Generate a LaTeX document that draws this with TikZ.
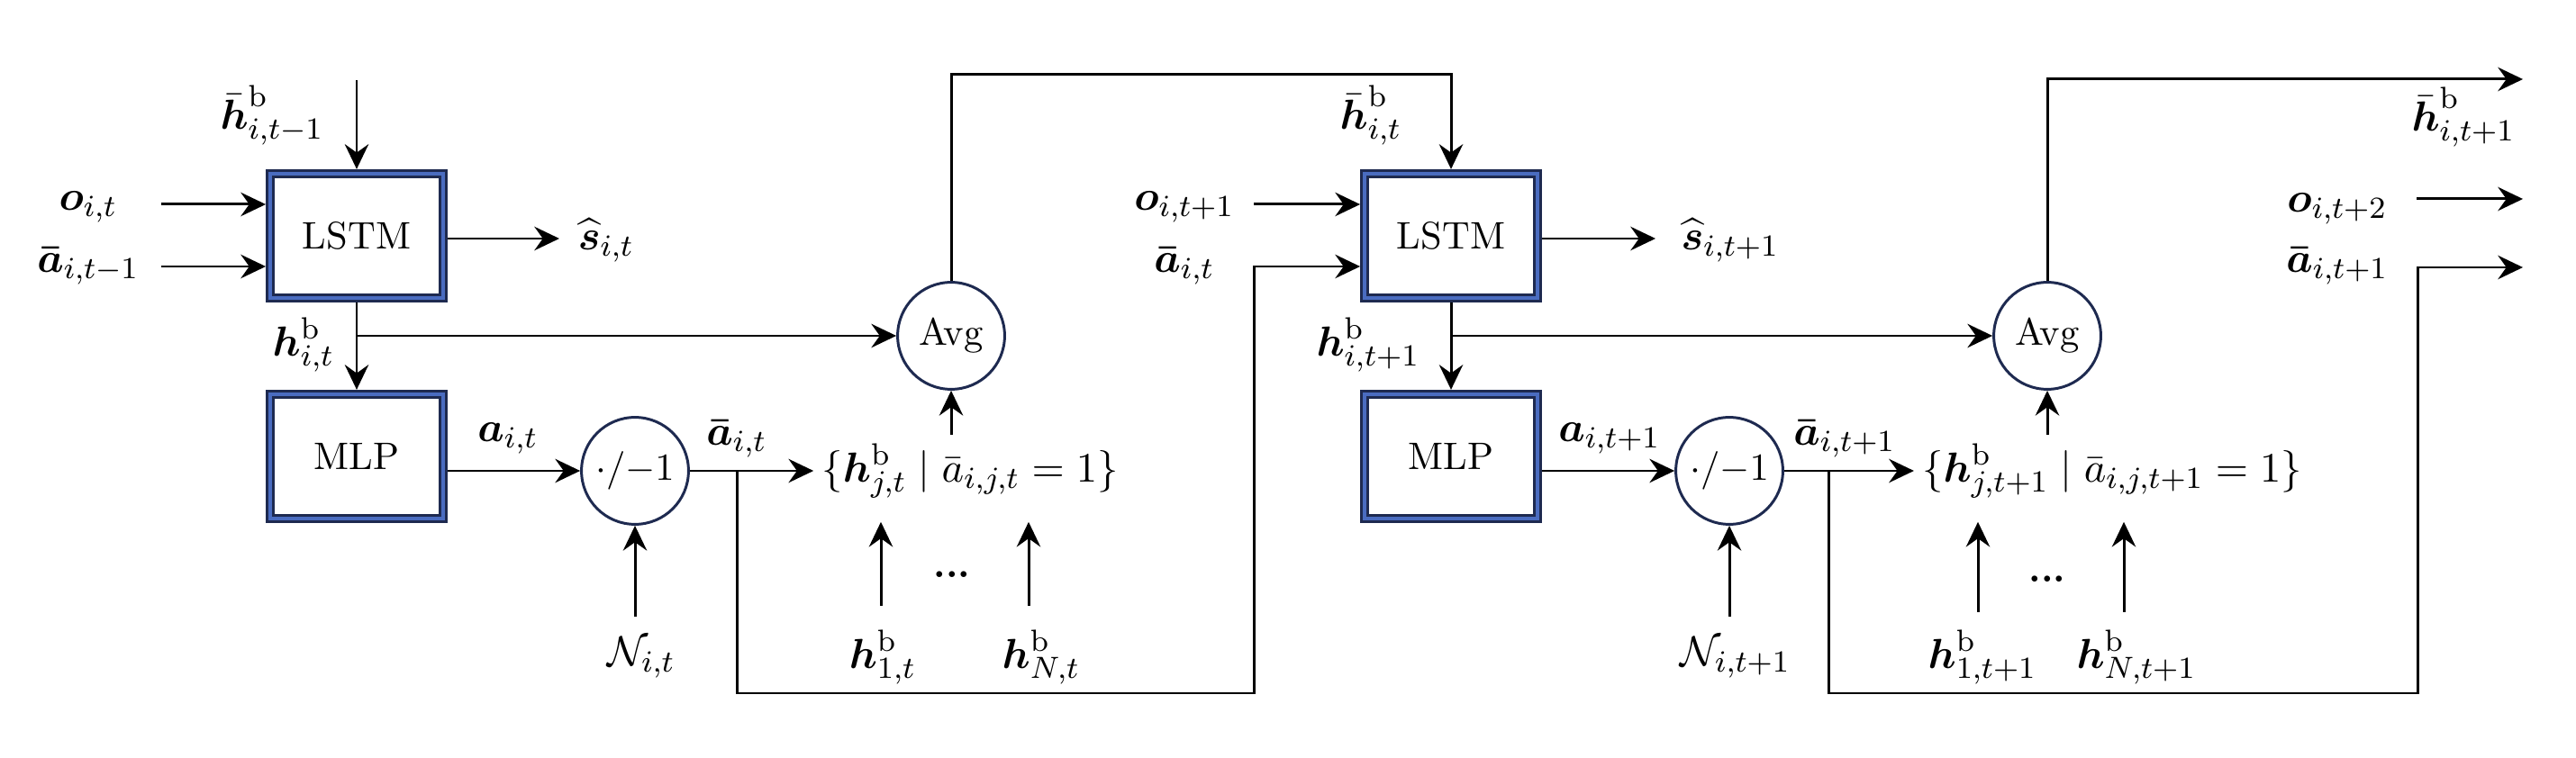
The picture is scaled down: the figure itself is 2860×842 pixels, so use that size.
\documentclass[tikz,border=0pt]{standalone}
\usepackage{amsmath, amssymb}
\usetikzlibrary{arrows.meta}
\definecolor{framenavy}{RGB}{30,42,80}
\definecolor{frameblue}{RGB}{74,108,192}
\tikzset{
        % blue double frame of LSTM / MLP
        block/.style={draw=framenavy, double=frameblue, line width=0.7pt,
            double distance=0.95pt, fill=white, minimum width=45pt,
            minimum height=32.4pt, inner sep=0pt, outer sep=1.2pt},
        % circle operators
        op/.style={circle, draw=framenavy, line width=0.7pt,
            minimum size=27.9pt, inner sep=0pt},
        flow/.style={line width=0.7pt, -{Stealth[length=6.5pt,width=6.2pt,inset=2.2pt]}},
        % math labels are set a bit larger
        lbl/.style={font=\fontsize{10.95}{13.6}\selectfont},
        setnode/.style={lbl, inner sep=2pt}
    }
\begin{document}
\begin{tikzpicture}[x=0.75pt,y=0.75pt,yscale=-.313,xscale=.313]
\useasboundingbox (0,0) rectangle (2860,842);

%Shape: blocks
\node[block] (lstmA) at (396,262) {LSTM};
\node[block] (mlpA) at (396,507) {MLP};
\node[block] (lstmB) at (1611,262) {LSTM};
\node[block] (mlpB) at (1611,507) {MLP};
%Shape: Circles
\node[op] (maskA) at (705,523) {$\cdot/{-}1$};
\node[op] (maskB) at (1920,523) {$\cdot/{-}1$};
\node[op] (avgA) at (1056,373) {Avg};
\node[op] (avgB) at (2273,373) {Avg};
% neighbour sets
\node[setnode] (setA) at (1077,523) {$\{\boldsymbol{h}^{\mathrm{b}}_{j,t}\mid\bar{a}_{i,j,t}=1\}$};
\node[setnode] (setB) at (2345,523) {$\{\boldsymbol{h}^{\mathrm{b}}_{j,t+1}\mid\bar{a}_{i,j,t+1}=1\}$};

% free ends
\coordinate (hbarIn) at (396,89);
\coordinate (oA) at (179,227);
\coordinate (aPrevA) at (179,296);
\coordinate (sA) at (621,265);
\coordinate (jA) at (396,373);
\coordinate (brA) at (818,523);
\coordinate (turnA) at (1392,770);
\coordinate (aInB) at (1500,296);
\coordinate (topA) at (1611,83);
\coordinate (oB) at (1392,227);
\coordinate (sB) at (1838,265);
\coordinate (jB) at (1611,373);
\coordinate (brB) at (2030,523);
\coordinate (turnB) at (2684,770);
\coordinate (aOutB) at (2801,297);
\coordinate (oC) at (2683,221);
\coordinate (oOutC) at (2801,221);
\coordinate (hbarOut) at (2801,88);
\coordinate (nA) at (705,685);
\coordinate (hOneA) at (978,673);
\coordinate (hNA) at (1142,673);
\coordinate (nB) at (1920,685);
\coordinate (hOneB) at (2196,680);
\coordinate (hNB) at (2358,680);

%Straight Lines: step t
\draw[flow] (hbarIn) -- (lstmA.north);
\draw[flow] (oA) -- (oA -| lstmA.west);
\draw[flow] (aPrevA) -- (aPrevA -| lstmA.west);
\draw[flow] (lstmA.east |- sA) -- (sA);
\draw[flow] (lstmA.south) -- (mlpA.north);
\draw[flow] (jA) -- (avgA.west);
\draw[flow] (mlpA.east |- maskA) -- (maskA.west);
\draw[flow] (maskA.east) -- (setA.west);
\draw[flow] (brA) |- (turnA) |- (aInB -| lstmB.west);
\draw[flow] (avgA |- setA.north) -- (avgA.south);
\draw[flow] (nA) -- (maskA.south);
\draw[flow, shorten >=4pt] (hOneA) -- (hOneA |- setA.south);
\draw[flow, shorten >=4pt] (hNA) -- (hNA |- setA.south);
\draw[flow] (avgA.north) |- (topA) -- (lstmB.north);

%Straight Lines: step t+1
\draw[flow] (oB) -- (oB -| lstmB.west);
\draw[flow] (lstmB.east |- sB) -- (sB);
\draw[flow] (lstmB.south) -- (mlpB.north);
\draw[flow] (jB) -- (avgB.west);
\draw[flow] (mlpB.east |- maskB) -- (maskB.west);
\draw[flow] (maskB.east) -- (setB.west);
\draw[flow] (brB) |- (turnB) |- (aOutB);
\draw[flow] (avgB |- setB.north) -- (avgB.south);
\draw[flow] (nB) -- (maskB.south);
\draw[flow, shorten >=4pt] (hOneB) -- (hOneB |- setB.south);
\draw[flow, shorten >=4pt] (hNB) -- (hNB |- setB.south);
\draw[flow] (avgB.north) |- (hbarOut);
\draw[flow] (oC) -- (oOutC);

% Text Node
\node[lbl] (lblHbarPrev) at (302,128) {$\bar{\boldsymbol{h}}^{\mathrm{b}}_{i,t-1}$};
\node[lbl] (lblOA) at (98,230) {$\boldsymbol{o}_{i,t}$};
\node[lbl] (lblAPrevA) at (98,295) {$\boldsymbol{\bar{a}}_{i,t-1}$};
\node[lbl] (lblSA) at (673,267) {$\widehat{\boldsymbol{s}}_{i,t}$};
\node[lbl] (lblHA) at (337,383) {$\boldsymbol{h}^{\mathrm{b}}_{i,t}$};
\node[lbl] (lblAA) at (564,487) {$\boldsymbol{a}_{i,t}$};
\node[lbl] (lblAbarA) at (818,487) {$\boldsymbol{\bar{a}}_{i,t}$};
\node[lbl] (lblNA) at (712,730) {$\mathcal{N}_{i,t}$};
\node[lbl] (lblHOneA) at (980,730) {$\boldsymbol{h}^{\mathrm{b}}_{1,t}$};
\node[lbl] (lblHNA) at (1156,730) {$\boldsymbol{h}^{\mathrm{b}}_{N,t}$};
\node (dotsA) at (1057,638) {\textbf{...}};
% Text Node
\node[lbl] (lblHbarA) at (1522,128) {$\bar{\boldsymbol{h}}^{\mathrm{b}}_{i,t}$};
\node[lbl] (lblOB) at (1315,230) {$\boldsymbol{o}_{i,t+1}$};
\node[lbl] (lblAinB) at (1315,295) {$\boldsymbol{\bar{a}}_{i,t}$};
\node[lbl] (lblSB) at (1921,267) {$\widehat{\boldsymbol{s}}_{i,t+1}$};
\node[lbl] (lblHB) at (1519,383) {$\boldsymbol{h}^{\mathrm{b}}_{i,t+1}$};
\node[lbl] (lblAB) at (1787,487) {$\boldsymbol{a}_{i,t+1}$};
\node[lbl] (lblAbarB) at (2048,487) {$\boldsymbol{\bar{a}}_{i,t+1}$};
\node[lbl] (lblNB) at (1927,730) {$\mathcal{N}_{i,t+1}$};
\node[lbl] (lblHOneB) at (2201,730) {$\boldsymbol{h}^{\mathrm{b}}_{1,t+1}$};
\node[lbl] (lblHNB) at (2372,730) {$\boldsymbol{h}^{\mathrm{b}}_{N,t+1}$};
\node (dotsB) at (2273,643) {\textbf{...}};
% Text Node
\node[lbl] (lblHbarB) at (2735,130) {$\bar{\boldsymbol{h}}^{\mathrm{b}}_{i,t+1}$};
\node[lbl] (lblOC) at (2595,232) {$\boldsymbol{o}_{i,t+2}$};
\node[lbl] (lblAC) at (2595,295) {$\boldsymbol{\bar{a}}_{i,t+1}$};

\end{tikzpicture}
\end{document}
